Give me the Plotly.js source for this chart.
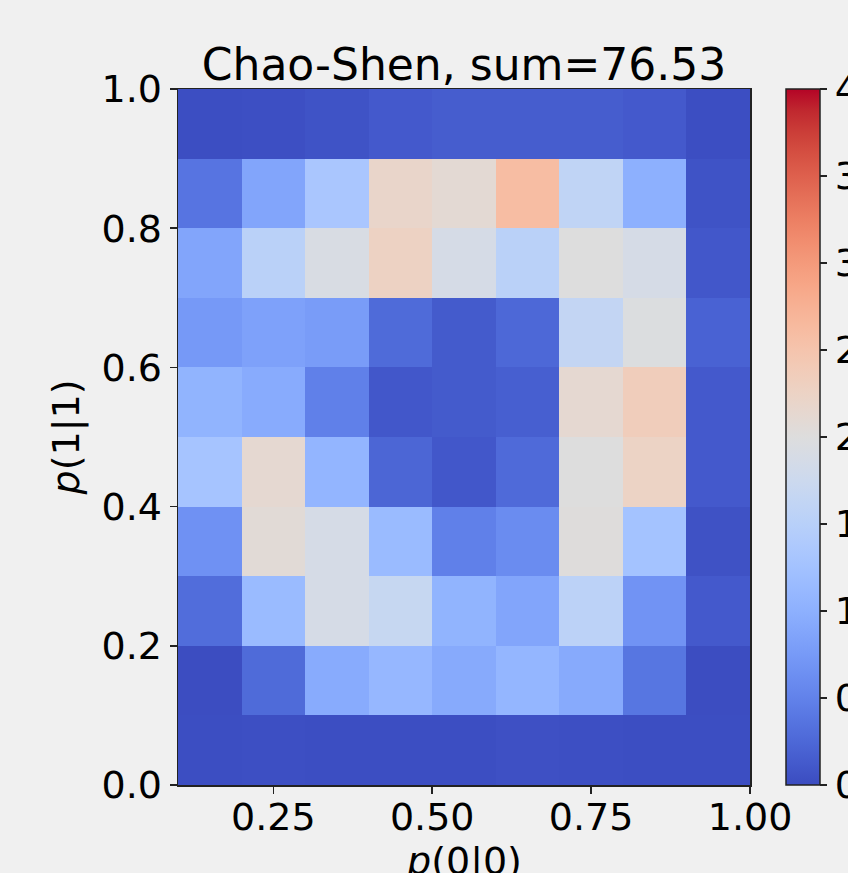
<!DOCTYPE html>
<html>
<head>
<meta charset="utf-8">
<script src="https://cdn.plot.ly/plotly-3.0.1.min.js"></script>
<style>
  html, body { margin: 0; padding: 0; background: #f0f0f0; }
  #chart { width: 848px; height: 873px; }
</style>
</head>
<body>
<div id="chart"></div>
<script>
// Bin centres
const p00 = [0.15, 0.25, 0.35, 0.45, 0.55, 0.65, 0.75, 0.85, 0.95];
const p11 = [0.05, 0.15, 0.25, 0.35, 0.45, 0.55, 0.65, 0.75, 0.85, 0.95];

// Values, one row per p(1|1) bin, bottom to top
const row00 = [0.02, 0.03, 0.02, 0.02, 0.02, 0.04, 0.03, 0.02, 0.02];
const row01 = [0.01, 0.28, 0.94, 1.10, 0.93, 1.08, 0.93, 0.38, 0.01];
const row02 = [0.30, 1.15, 1.88, 1.68, 1.05, 0.87, 1.55, 0.68, 0.12];
const row03 = [0.66, 2.07, 1.88, 1.15, 0.48, 0.60, 2.02, 1.26, 0.05];
const row04 = [1.28, 2.13, 1.07, 0.23, 0.10, 0.27, 2.00, 2.25, 0.12];
const row05 = [1.05, 0.94, 0.48, 0.10, 0.13, 0.17, 2.13, 2.35, 0.12];
const row06 = [0.74, 0.83, 0.77, 0.28, 0.13, 0.25, 1.64, 1.97, 0.20];
const row07 = [0.88, 1.52, 1.92, 2.27, 1.87, 1.52, 2.00, 1.87, 0.10];
const row08 = [0.37, 0.87, 1.33, 2.20, 2.10, 2.60, 1.60, 1.00, 0.06];
const row09 = [0.02, 0.03, 0.06, 0.12, 0.15, 0.15, 0.15, 0.12, 0.02];

const cbTicks = [0, 0.5, 1, 1.5, 2, 2.5, 3, 3.5, 4];
const xTicks = [0.25, 0.5, 0.75, 1.0];
const yTicks = [0, 0.2, 0.4, 0.6, 0.8, 1.0];

// matplotlib coolwarm
const cw = [
 [59,76,192],[68,90,204],[77,104,215],[87,117,225],[98,130,234],[108,142,241],
 [119,154,247],[130,165,251],[141,176,254],[152,185,255],[163,194,255],[174,201,253],
 [184,208,249],[194,213,244],[204,217,238],[213,219,230],[221,221,221],[229,216,209],
 [236,211,197],[241,204,185],[245,196,173],[247,187,160],[247,177,148],[247,166,135],
 [244,154,123],[241,141,111],[236,127,99],[229,112,88],[222,96,77],[213,80,66],
 [203,62,56],[192,40,47],[180,4,38]
];
const colorscale = cw.map((c, i) => [i / (cw.length - 1), `rgb(${c[0]},${c[1]},${c[2]})`]);

const z = [row00, row01, row02, row03, row04, row05, row06, row07, row08, row09];

const TICK = 38;
const tickFont = { family: 'DejaVu Sans', size: TICK, color: '#000' };

const trace = {
  type: 'heatmap',
  x: p00, y: p11, z: z,
  zmin: 0, zmax: 4,
  colorscale: colorscale,
  xgap: 0, ygap: 0,
  hoverinfo: 'skip',
  colorbar: {
    x: 1.063, xanchor: 'left', xref: 'paper',
    y: 0.5, yanchor: 'middle', yref: 'paper',
    len: 1, lenmode: 'fraction',
    thickness: 34, thicknessmode: 'pixels',
    xpad: 0, ypad: 0,
    outlinewidth: 1.5, outlinecolor: '#222',
    ticks: 'outside', ticklen: 7, tickwidth: 1.5, tickcolor: '#222',
    tickvals: cbTicks, tickformat: '.1f',
    tickfont: tickFont,
    borderwidth: 0, bgcolor: 'rgba(0,0,0,0)'
  }
};

const layout = {
  width: 848, height: 873,
  paper_bgcolor: '#f0f0f0', plot_bgcolor: '#f0f0f0',
  margin: { l: 178, r: 98, t: 89, b: 88, pad: 0, autoexpand: false },
  font: { family: 'DejaVu Sans', color: '#000' },
  showlegend: false,
  title: {
    text: 'Chao-Shen, sum=76.53',
    font: { family: 'DejaVu Sans', size: 44, color: '#000' },
    x: 0.5, xref: 'paper', xanchor: 'center',
    y: 1, yref: 'paper', yanchor: 'bottom',
    pad: { b: 9 }
  },
  xaxis: {
    range: [0.1, 1.0], autorange: false,
    tickvals: xTicks, tickformat: '.2f',
    ticks: 'outside', ticklen: 7, tickwidth: 1.5, tickcolor: '#222',
    ticklabelstandoff: -9,
    tickfont: tickFont,
    showgrid: false, zeroline: false,
    showline: true, mirror: true, linecolor: '#222', linewidth: 1.5,
    title: { text: '', font: tickFont },
    automargin: false
  },
  yaxis: {
    range: [0, 1.0], autorange: false,
    tickvals: yTicks, tickformat: '.1f',
    ticks: 'outside', ticklen: 7, tickwidth: 1.5, tickcolor: '#222',
    tickfont: tickFont,
    showgrid: false, zeroline: false,
    showline: true, mirror: true, linecolor: '#222', linewidth: 1.5,
    title: { text: '<i>p</i>(1|1)', font: tickFont, standoff: 10 },
    automargin: false
  },
  annotations: [{
    text: '<i>p</i>(0|0)',
    xref: 'paper', yref: 'paper', x: 0.5, y: 0,
    xanchor: 'center', yanchor: 'top', yshift: -52,
    showarrow: false, font: tickFont
  }]
};

Plotly.newPlot('chart', [trace], layout, { displayModeBar: false, staticPlot: true });
</script>
</body>
</html>
